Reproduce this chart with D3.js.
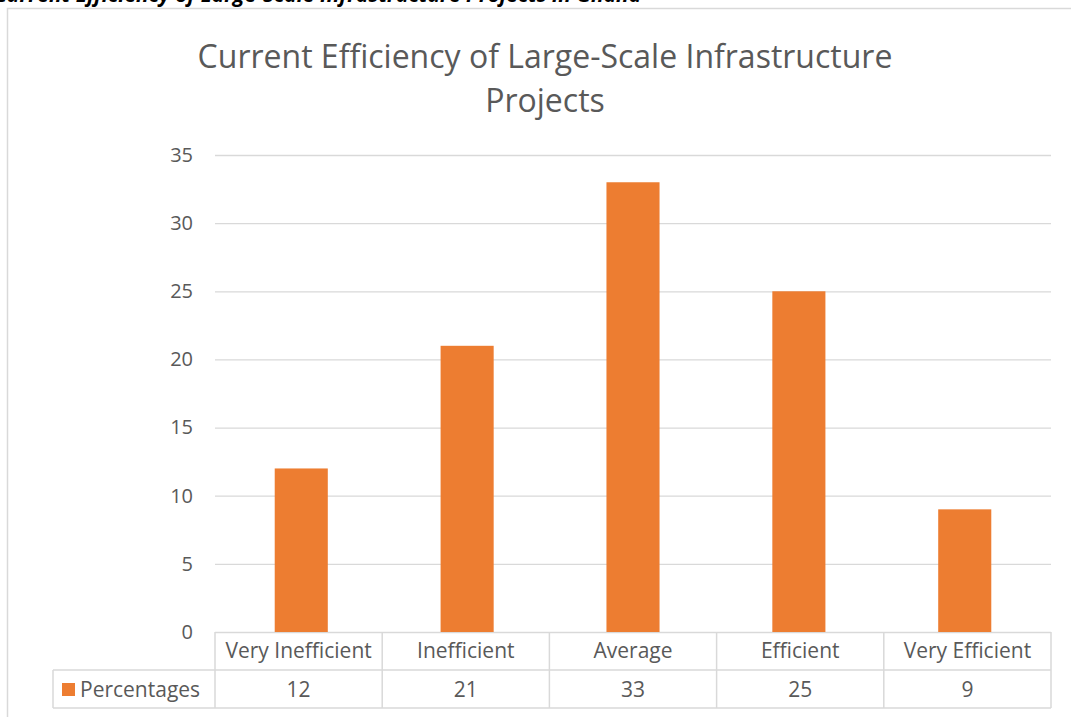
<!DOCTYPE html>
<html>
<head>
<meta charset="utf-8">
<script src="https://cdn.jsdelivr.net/npm/d3@7"></script>
<style>
  body { margin: 0; background: #fff; }
  text { font-family: "Open Sans", "Noto Sans", sans-serif; }
</style>
</head>
<body>
<div id="chart"></div>
<script>
// chart data
var categories = ["Very Inefficient", "Inefficient", "Average", "Efficient", "Very Efficient"];
var percentages = [12, 21, 33, 25, 9];
var yTicks = [0, 5, 10, 15, 20, 25, 30, 35];
var seriesName = "Percentages";
var titleLines = ["Current Efficiency of Large-Scale Infrastructure", "Projects"];
var captionText = "Current Efficiency of Large-Scale Infrastructure Projects in Ghana";

var W = 1071, H = 717;
var margin = { top: 155, right: 20, bottom: 85, left: 215 };
var width = 1051 - margin.left,
    height = 632 - margin.top;

var svg = d3.select("#chart").append("svg")
    .attr("width", W)
    .attr("height", H);

// caption of the page, cut off by the top edge as in the screenshot
svg.append("text")
    .attr("x", -6)
    .attr("y", 2)
    .style("font-size", "21px")
    .style("font-weight", "bold")
    .style("font-style", "italic")
    .style("fill", "#000")
    .text(captionText);

// chart frame
svg.append("rect")
    .attr("x", 7.5).attr("y", 8.5)
    .attr("width", W + 10).attr("height", H + 10)
    .attr("fill", "none")
    .attr("stroke", "#d9d9d9")
    .attr("stroke-width", 1.5);

// title
svg.append("g").selectAll("text")
    .data(titleLines)
    .enter().append("text")
    .attr("x", 545)
    .attr("y", function(d, i) { return 68 + i * 44; })
    .attr("text-anchor", "middle")
    .style("font-size", "32px")
    .style("fill", "#595959")
    .text(function(d) { return d; });

var g = svg.append("g")
    .attr("transform", "translate(" + margin.left + "," + margin.top + ")");

var x = d3.scaleBand()
    .domain(categories)
    .range([0, width])
    .paddingInner(0.68)
    .paddingOuter(0.36);

var xCol = d3.scaleBand()
    .domain(categories)
    .range([0, width]);

var y = d3.scaleLinear()
    .domain([0, 35])
    .range([height, 0]);

// gridlines + y labels
var yAxis = d3.axisLeft(y)
    .tickValues(yTicks)
    .tickSize(-width)
    .tickPadding(22);

g.append("g")
    .attr("class", "y-axis")
    .call(yAxis)
    .call(function(a) {
        a.select(".domain").remove();
        a.selectAll(".tick line").attr("stroke", "#d9d9d9").attr("stroke-width", 1.3);
        a.selectAll(".tick text")
            .style("font-size", "20px")
            .style("fill", "#595959")
            .style("font-family", "'Open Sans', sans-serif");
    });

// bars
g.selectAll(".bar")
    .data(percentages)
    .enter().append("rect")
    .attr("class", "bar")
    .attr("x", function(d, i) { return x(categories[i]); })
    .attr("width", x.bandwidth())
    .attr("y", function(d) { return y(d); })
    .attr("height", function(d) { return height - y(d); })
    .attr("fill", "#ED7D31");

// data table
var rowH = 38;
var tbl = g.append("g").attr("transform", "translate(0," + height + ")");
var lineColor = "#d9d9d9";
var labelLeft = 53 - margin.left;
var fs = "21px";

// horizontal lines
tbl.append("line").attr("x1", labelLeft).attr("x2", width).attr("y1", rowH).attr("y2", rowH)
    .attr("stroke", lineColor).attr("stroke-width", 1.5);
tbl.append("line").attr("x1", labelLeft).attr("x2", width).attr("y1", 2 * rowH).attr("y2", 2 * rowH)
    .attr("stroke", lineColor).attr("stroke-width", 1.5);
// vertical lines
var vx = categories.map(function(c) { return xCol(c); }).concat([width]);
tbl.selectAll(".vline")
    .data(vx)
    .enter().append("line")
    .attr("x1", function(d) { return d; }).attr("x2", function(d) { return d; })
    .attr("y1", 0).attr("y2", 2 * rowH)
    .attr("stroke", lineColor).attr("stroke-width", 1.5);
tbl.append("line").attr("x1", labelLeft).attr("x2", labelLeft).attr("y1", rowH).attr("y2", 2 * rowH)
    .attr("stroke", lineColor).attr("stroke-width", 1.5);

tbl.selectAll(".cat")
    .data(categories)
    .enter().append("text")
    .attr("x", function(d) { return xCol(d) + xCol.bandwidth() / 2; })
    .attr("y", 26)
    .attr("text-anchor", "middle")
    .style("font-size", fs)
    .style("fill", "#595959")
    .text(function(d) { return d; });

tbl.selectAll(".val")
    .data(percentages)
    .enter().append("text")
    .attr("x", function(d, i) { return xCol(categories[i]) + xCol.bandwidth() / 2; })
    .attr("y", rowH + 27)
    .attr("text-anchor", "middle")
    .style("font-size", fs)
    .style("fill", "#595959")
    .text(function(d) { return d; });

// legend key in table
tbl.append("rect")
    .attr("x", labelLeft + 9).attr("y", rowH + 13)
    .attr("width", 13).attr("height", 13)
    .attr("fill", "#ED7D31");
tbl.append("text")
    .attr("x", labelLeft + 27).attr("y", rowH + 27)
    .style("font-size", fs)
    .style("fill", "#595959")
    .text(seriesName);
</script>
</body>
</html>
